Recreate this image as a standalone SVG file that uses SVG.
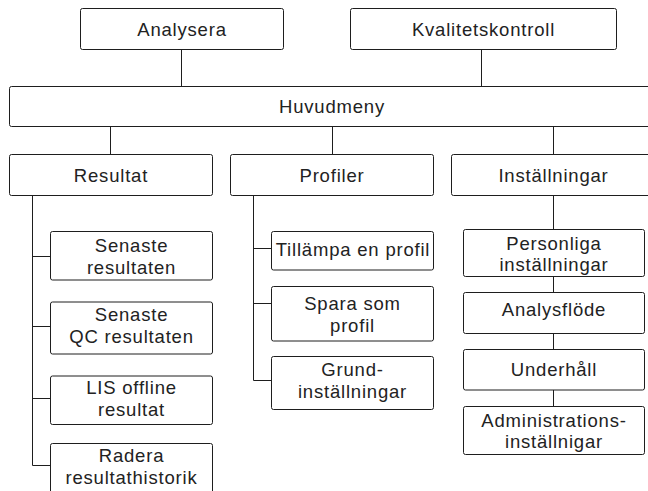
<svg xmlns="http://www.w3.org/2000/svg" width="648" height="491" viewBox="0 0 648 491">
<style>
.box{fill:#fff;stroke:#1e1e1e;stroke-width:1}
.ln{fill:none;stroke:#1e1e1e;stroke-width:1}
text{font-family:"Liberation Sans",Arial,sans-serif;font-size:18.5px;letter-spacing:0.8px;fill:#222;text-anchor:middle}
</style>
<rect width="648" height="491" fill="#fff"/>
<g id="connectors">
<path class="ln" d="M181.5 49.5V86.5M481.5 49.5V86.5M110.5 126.5V154.5M332.5 126.5V154.5M553.5 126.5V154.5"/>
<path class="ln" d="M32.5 195.5V465.5H50.5M32.5 256.5H50.5M32.5 326.5H50.5M32.5 398.5H50.5"/>
<path class="ln" d="M253.5 195.5V380.5H271.5M253.5 248.5H271.5M253.5 303.5H271.5"/>
<path class="ln" d="M553.5 195.5V406.5"/>
</g>
<g id="analysera"><rect class="box" x="80.5" y="8.5" width="203" height="41" rx="2"/><text x="182" y="35.5">Analysera</text></g>
<g id="kvalitetskontroll"><rect class="box" x="350.5" y="8.5" width="266" height="41" rx="2"/><text x="483.5" y="35.5">Kvalitetskontroll</text></g>
<g id="huvudmeny"><rect class="box" x="9.5" y="86.5" width="645" height="40" rx="2"/><text x="332" y="112.7">Huvudmeny</text></g>
<g id="resultat"><rect class="box" x="9.5" y="154.5" width="203" height="41" rx="2"/><text x="111" y="181.7">Resultat</text></g>
<g id="profiler"><rect class="box" x="230.5" y="154.5" width="203" height="41" rx="2"/><text x="332" y="181.7">Profiler</text></g>
<g id="installningar"><rect class="box" x="451.5" y="154.5" width="205" height="41" rx="2"/><text x="553.5" y="181.7">Inställningar</text></g>
<g id="senaste-resultaten"><rect class="box" x="50.5" y="231.5" width="162" height="48.5" rx="2"/><text x="131.5" y="251.5">Senaste</text><text x="131.5" y="273.5">resultaten</text></g>
<g id="senaste-qc"><rect class="box" x="50.5" y="302" width="162" height="52" rx="2"/><text x="131.5" y="320.7">Senaste</text><text x="131.5" y="342.7">QC resultaten</text></g>
<g id="lis-offline"><rect class="box" x="50.5" y="376" width="162" height="48.5" rx="2"/><text x="131.5" y="394.3">LIS offline</text><text x="131.5" y="416">resultat</text></g>
<g id="radera"><rect class="box" x="50.5" y="443.5" width="162" height="50" rx="2"/><text x="131.5" y="462.3">Radera</text><text x="131.5" y="484.3">resultathistorik</text></g>
<g id="tillampa"><rect class="box" x="271.5" y="231.5" width="162" height="38.5" rx="2"/><text x="353" y="255.7">Tillämpa en profil</text></g>
<g id="spara"><rect class="box" x="271.5" y="286.5" width="162" height="54.5" rx="2"/><text x="352.5" y="310">Spara som</text><text x="352.5" y="332">profil</text></g>
<g id="grund"><rect class="box" x="271.5" y="356.5" width="162" height="53" rx="2"/><text x="352.5" y="376">Grund-</text><text x="352.5" y="398">inställningar</text></g>
<g id="personliga"><rect class="box" x="463.5" y="229.5" width="181" height="47" rx="2"/><text x="554" y="249.5">Personliga</text><text x="554" y="271">inställningar</text></g>
<g id="analysflode"><rect class="box" x="463.5" y="292.5" width="181" height="41" rx="2"/><text x="554" y="316">Analysflöde</text></g>
<g id="underhall"><rect class="box" x="463.5" y="349.5" width="181" height="40.5" rx="2"/><text x="554" y="376">Underhåll</text></g>
<g id="administration"><rect class="box" x="463.5" y="406.5" width="181" height="48" rx="2"/><text x="554" y="426.5">Administrations-</text><text x="554" y="448">inställnigar</text></g>
</svg>
